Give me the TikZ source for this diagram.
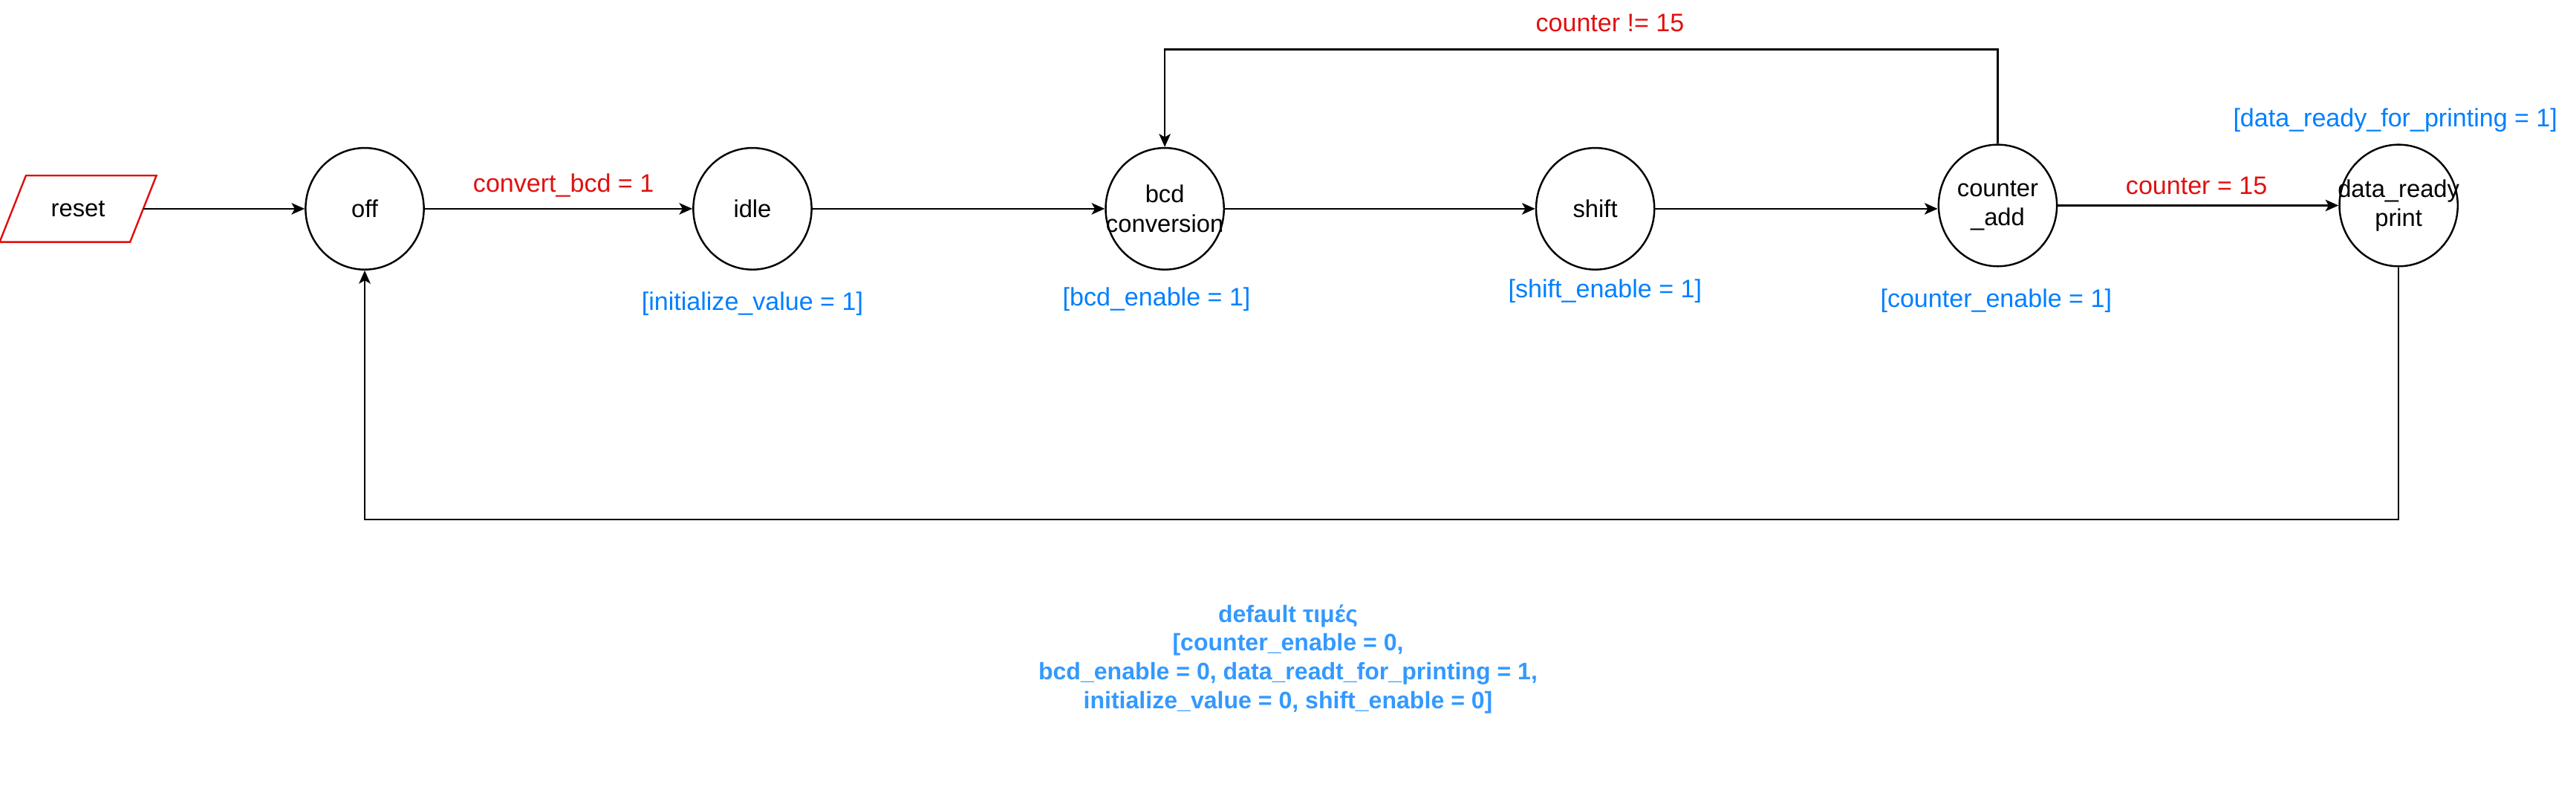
\documentclass[tikz,border=0pt]{standalone}
\usepackage{fontspec}
\setmainfont{Liberation Sans}
\usetikzlibrary{arrows.meta,shapes.geometric}
\definecolor{lblred}{RGB}{224,16,16}
\definecolor{lblblue}{RGB}{0,127,255}
\definecolor{defblue}{RGB}{51,153,255}
\begin{document}
\begin{tikzpicture}[x=1pt,y=-1pt,
  state/.style={ellipse,draw,line width=1.1pt,minimum width=72pt,minimum height=74pt,inner sep=0pt},
  stxt/.style={align=center,font=\fontsize{14.8}{17.8}\selectfont,inner sep=0pt},
  ed/.style={line width=1.1pt,-{Stealth[length=8pt,width=7pt,inset=2pt]}},
  lred/.style={text=lblred,font=\fontsize{15.4}{18}\selectfont,inner sep=0pt},
  lblue/.style={text=lblblue,font=\fontsize{15.4}{18}\selectfont,inner sep=0pt}]
\useasboundingbox (0,0) rectangle (1568,482);

% input node
\node[minimum width=79pt,minimum height=40pt,inner sep=0pt,font=\fontsize{14.8}{17.8}\selectfont] (reset) at (47.5,127) {reset};
\draw[lblred,line width=1.1pt] ([xshift=8pt]reset.north west) -- ([xshift=8pt]reset.north east)
  -- ([xshift=-8pt]reset.south east) -- ([xshift=-8pt]reset.south west) -- cycle;

% states
\node[state,label={[stxt]center:off}] (off) at (222,127) {};
\node[state,label={[stxt]center:idle}] (idle) at (458,127) {};
\node[state,label={[stxt]center:bcd\\conversion}] (bcd) at (709,127) {};
\node[state,label={[stxt]center:shift}] (shift) at (971,127) {};
\node[state,label={[stxt]center:counter\\\_add}] (cadd) at (1216,125) {};
\node[state,label={[stxt]center:data\_ready\\print}] (data) at (1460,125) {};

% helper coordinates for loops
\coordinate (looptop) at (0,30);
\coordinate (loopbot) at (0,316);

% transitions
\draw[ed] (reset.east) -- (off.west);
\draw[ed] (off.east) -- (idle.west);
\draw[ed] (idle.east) -- (bcd.west);
\draw[ed] (bcd.east) -- (shift.west);
\draw[ed] (shift.east) -- (shift.east -| cadd.west);
\draw[ed] (cadd.east) -- (data.west);
\draw[ed] (cadd.north) -- (cadd.north |- looptop) -| (bcd.north);
\draw[ed] (data.south) -- (data.south |- loopbot) -| (off.south);

% transition labels
\node[lred] (l1) at (343,113) {convert\_bcd = 1};
\node[lred] (l2) at (1337,113) {counter = 15};
\node[lred] (l3) at (980,14) {counter != 15};

% output labels
\node[lblue] (o1) at (458,185) {[initialize\_value = 1]};
\node[lblue] (o2) at (704,182) {[bcd\_enable = 1]};
\node[lblue] (o3) at (977,177) {[shift\_enable = 1]};
\node[lblue] (o4) at (1215,183) {[counter\_enable = 1]};
\node[lblue] (o5) at (1458,73) {[data\_ready\_for\_printing = 1]};

% defaults
\node[text=defblue,align=center,inner sep=0pt,font=\bfseries\fontsize{14.5}{17.6}\selectfont] (def) at (784,401)
  {default τιμές\\{[}counter\_enable = 0,\\bcd\_enable = 0, data\_readt\_for\_printing = 1,\\initialize\_value = 0, shift\_enable = 0]};
\end{tikzpicture}
\end{document}
